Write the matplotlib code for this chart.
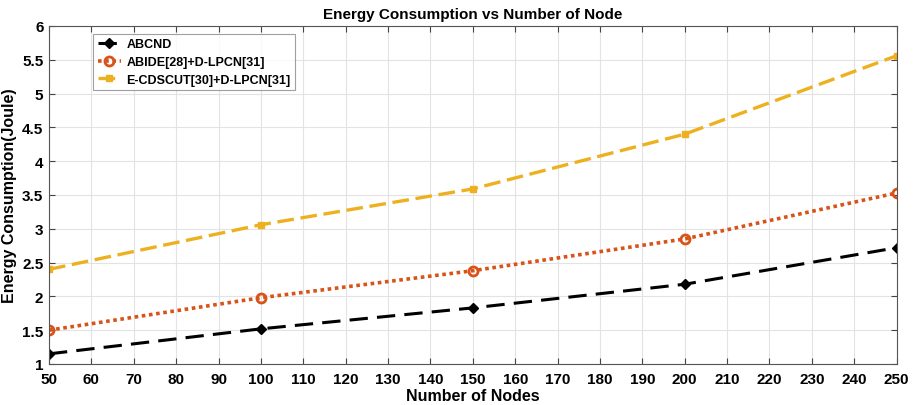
import matplotlib
matplotlib.use("Agg")
import matplotlib.pyplot as plt
from matplotlib.ticker import MultipleLocator

nodes = [50, 100, 150, 200, 250]
abcnd = [1.15, 1.52, 1.83, 2.18, 2.72]
abide = [1.50, 1.98, 2.38, 2.85, 3.53]
ecds = [2.40, 3.06, 3.59, 4.40, 5.56]
labels = ["ABCND", "ABIDE[28]+D-LPCN[31]", "E-CDSCUT[30]+D-LPCN[31]"]

plt.rcParams['font.family'] = ['Liberation Sans', 'DejaVu Sans']
fig = plt.figure(figsize=(9.14, 4.06), dpi=100)
ax = fig.add_axes([0.0536, 0.101, 0.9274, 0.8325])

ax.plot(nodes, abcnd, color='black', linestyle=(0, (6, 3)), linewidth=2.2,
        marker='D', markersize=5.5, markerfacecolor='black', label=labels[0])
ax.plot(nodes, abide, color='#D95319', linestyle=(0, (1, 1)), linewidth=2.6,
        marker='o', markersize=6.5, markerfacecolor='none', markeredgewidth=2, label=labels[1])
ax.plot(nodes, ecds, color='#EDB120', linestyle=(0, (5, 2)), linewidth=2.4,
        marker='s', markersize=4.5, markerfacecolor='#EDB120', label=labels[2])

ax.set_xlim(50, 250)
ax.set_ylim(1, 6)
ax.xaxis.set_major_locator(MultipleLocator(10))
ax.yaxis.set_major_locator(MultipleLocator(0.5))
ax.yaxis.set_major_formatter(matplotlib.ticker.FuncFormatter(lambda v, p: f"{v:g}"))
ax.grid(True, color='#e3e3e3', linewidth=0.8)
ax.set_axisbelow(True)
ax.tick_params(direction='in', top=True, right=True, length=4, color='#444444',
               labelsize=11)
ax.tick_params(axis='x', pad=6)
ax.tick_params(axis='y', pad=4)
for lab in ax.get_xticklabels() + ax.get_yticklabels():
    lab.set_fontweight('bold')
for s in ax.spines.values():
    s.set_color('#555555')
    s.set_linewidth(0.8)

ax.set_title("Energy Consumption vs Number of Node", fontsize=11, fontweight='bold', pad=6)
ax.set_xlabel("Number of Nodes", fontsize=11.5, fontweight='bold', labelpad=1)
ax.set_ylabel("Energy Consumption(Joule)", fontsize=11.5, fontweight='bold', labelpad=4)

leg = ax.legend(loc='upper left', bbox_to_anchor=(0.102, 0.914), bbox_transform=fig.transFigure,
                borderaxespad=0, frameon=True, fancybox=False, edgecolor='#888888',
                handlelength=1.9, borderpad=0.35, labelspacing=0.45, handletextpad=0.4,
                prop={'weight': 'bold', 'size': 9})
leg.get_frame().set_linewidth(0.8)

fig.savefig("out.png", dpi=100)
